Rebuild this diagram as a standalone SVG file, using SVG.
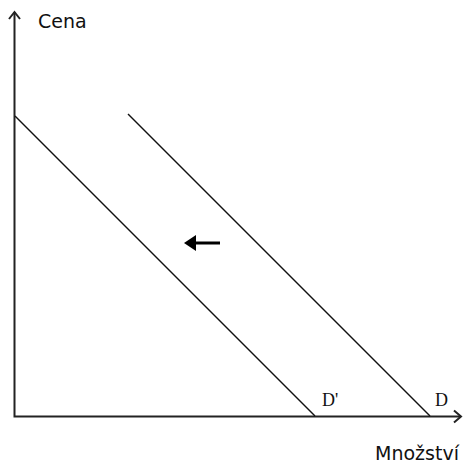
<svg xmlns="http://www.w3.org/2000/svg" width="465" height="463" viewBox="0 0 465 463">
<style>
.ax{stroke:#222;stroke-width:2;fill:none}
.ln{stroke:#111;stroke-width:1.4;fill:none}
.sans{font-family:"DejaVu Sans",Verdana,sans-serif;font-size:19px;fill:#111}
.ser{font-family:"Liberation Serif","Times New Roman",serif;font-size:18px;fill:#111}
</style>
<rect width="465" height="463" fill="#fff"/>
<g id="connectors">
<path class="ax" d="M14.5 12 V416.5 H461"/>
<path class="ax" stroke-width="1.3" d="M9 19 L14.5 12 L20 19"/>
<path class="ax" stroke-width="1.3" d="M454 410.5 L461 416.5 L454 422.5"/>
<line class="ln" x1="15" y1="116" x2="315" y2="416"/>
<line class="ln" x1="128" y1="114" x2="430" y2="416"/>
<line x1="194" y1="243" x2="220" y2="243" stroke="#000" stroke-width="3"/>
<polygon points="184,243 196,235 196,251" fill="#000"/>
</g>
<g id="labels">
<text class="sans" x="38" y="28" font-size="20">Cena</text>
<text class="ser" x="322" y="406">D'</text>
<text class="ser" x="435" y="406">D</text>
<text class="sans" x="375" y="460">Množství</text>
</g>
</svg>
